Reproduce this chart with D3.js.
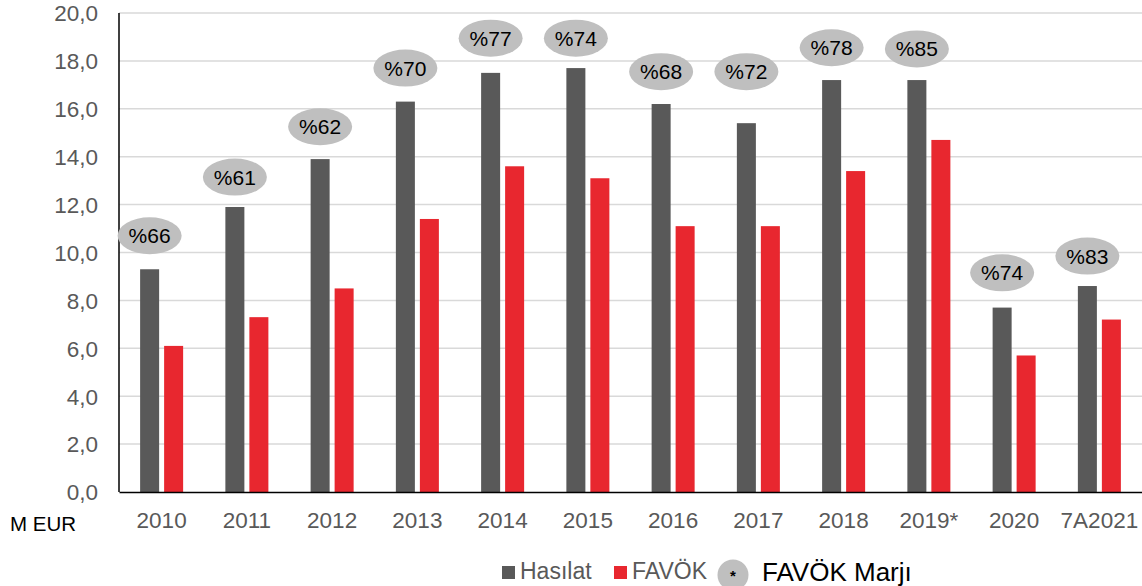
<!DOCTYPE html>
<html>
<head>
<meta charset="utf-8">
<script src="https://cdn.jsdelivr.net/npm/d3@7"></script>
<style>
  html, body { margin: 0; padding: 0; background: #fff; }
  svg { display: block; font-family: "Liberation Sans", Arial, sans-serif; }
</style>
</head>
<body>
<svg id="chart" width="1142" height="586"></svg>
<script>
const categories = ["2010","2011","2012","2013","2014","2015","2016","2017","2018","2019*","2020","7A2021"];
const hasilat = [9.3, 11.9, 13.9, 16.3, 17.5, 17.7, 16.2, 15.4, 17.2, 17.2, 7.7, 8.6];
const favok   = [6.1, 7.3, 8.5, 11.4, 13.6, 13.1, 11.1, 11.1, 13.4, 14.7, 5.7, 7.2];
const marginLabels = ["%66","%61","%62","%70","%77","%74","%68","%72","%78","%85","%74","%83"];
const marginLevel  = [10.7, 13.15, 15.25, 17.7, 18.95, 18.95, 17.55, 17.55, 18.55, 18.5, 9.15, 9.85];
const yTicks = [0, 2, 4, 6, 8, 10, 12, 14, 16, 18, 20];
const seriesNames = ["Hasılat", "FAVÖK"];
const seriesColors = ["#595959", "#e8272f"];

const svg = d3.select("#chart");
const mLeft = 119, mRight = 1142, mTop = 13, mBottom = 492;

const x = d3.scaleBand().domain(categories).range([mLeft, mRight]).padding(0);
const xs = d3.scaleBand().domain(seriesNames).range([0, x.bandwidth()])
  .paddingInner(0.208).paddingOuter(0.88);
const y = d3.scaleLinear().domain([0, 20]).range([mBottom, mTop]);

// gridlines
svg.append("g").selectAll("line").data(yTicks.filter(d => d > 0)).join("line")
  .attr("x1", mLeft).attr("x2", mRight)
  .attr("y1", d => y(d)).attr("y2", d => y(d))
  .attr("stroke", "#d9d9d9").attr("stroke-width", 1.5);

// y axis
const yAxis = svg.append("g").attr("transform", `translate(${mLeft},0)`)
  .call(d3.axisLeft(y).tickValues(yTicks).tickSize(0).tickPadding(21)
    .tickFormat(d => d3.format(".1f")(d).replace(".", ",")));
yAxis.select(".domain").remove();
yAxis.selectAll("text").attr("fill", "#595959").style("font-size", "22.5px")
  .attr("dy", "0.35em");

// bars
const rows = categories.map((c, i) => ({ c, vals: [hasilat[i], favok[i]] }));
const groups = svg.append("g").selectAll("g").data(rows).join("g")
  .attr("transform", d => `translate(${x(d.c)},0)`);
groups.selectAll("rect").data(d => d.vals.map((v, k) => ({ k, v }))).join("rect")
  .attr("x", d => xs(seriesNames[d.k]))
  .attr("width", xs.bandwidth())
  .attr("y", d => y(d.v))
  .attr("height", d => y(0) - y(d.v))
  .attr("fill", d => seriesColors[d.k]);

// axis lines
svg.append("line").attr("x1", mLeft).attr("x2", mLeft).attr("y1", mTop).attr("y2", mBottom)
  .attr("stroke", "#000").attr("stroke-width", 1.5);
const xAxis = svg.append("g").attr("transform", `translate(0,${mBottom})`)
  .call(d3.axisBottom(x).tickSize(0).tickPadding(20));
xAxis.select(".domain").attr("stroke", "#000").attr("stroke-width", 1.5);
xAxis.selectAll("text").attr("fill", "#595959").style("font-size", "22.5px");

svg.append("text").attr("x", 10).attr("y", 531).text("M EUR")
  .attr("fill", "#000").style("font-size", "20.5px");

// margin bubbles
const bub = svg.append("g").selectAll("g").data(categories).join("g")
  .attr("transform", (c, i) => `translate(${x(c) + xs("Hasılat") + xs.bandwidth() / 2},${y(marginLevel[i])})`);
bub.append("ellipse").attr("rx", 32).attr("ry", 18.5).attr("fill", "#bfbfbf");
bub.append("text").attr("text-anchor", "middle").attr("dy", "0.36em")
  .style("font-size", "21px").attr("fill", "#000")
  .text((c, i) => marginLabels[i]);

// legend
const lg = svg.append("g");
const legendItems = [
  { name: seriesNames[0], color: seriesColors[0], sx: 502, tx: 520 },
  { name: seriesNames[1], color: seriesColors[1], sx: 614, tx: 632 }
];
legendItems.forEach(it => {
  lg.append("rect").attr("x", it.sx).attr("y", 566).attr("width", 13).attr("height", 13).attr("fill", it.color);
  lg.append("text").attr("x", it.tx).attr("y", 579).text(it.name)
    .attr("fill", "#595959").style("font-size", "23px");
});
lg.append("circle").attr("cx", 733).attr("cy", 575).attr("r", 15.5).attr("fill", "#bfbfbf");
lg.append("text").attr("x", 733).attr("y", 581).attr("text-anchor", "middle")
  .text("*").attr("fill", "#000").style("font-size", "15px").style("font-weight", "bold");
lg.append("text").attr("x", 762).attr("y", 581).text("FAVÖK Marjı")
  .attr("fill", "#000").style("font-size", "26px");
</script>
</body>
</html>
